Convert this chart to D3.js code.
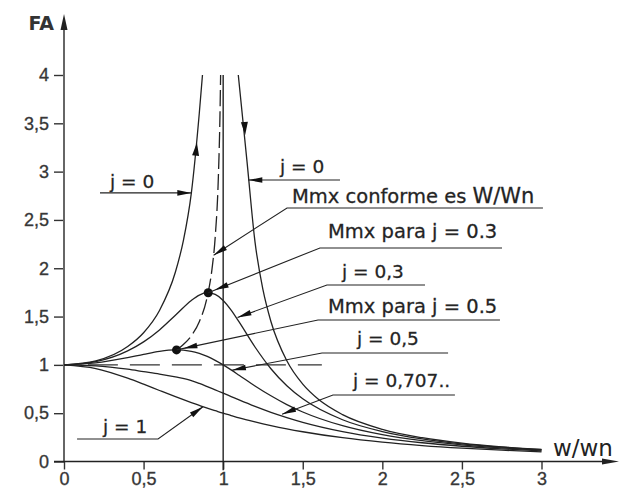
<!DOCTYPE html>
<html>
<head>
<meta charset="utf-8">
<script src="https://cdnjs.cloudflare.com/ajax/libs/d3/7.8.5/d3.min.js"></script>
<style>
  body { margin: 0; background: #fff; }
  svg { display: block; font-family: "DejaVu Sans", sans-serif; }
  .curve { fill: none; stroke: #222; stroke-width: 1.3; }
  .peak-line { fill: none; stroke: #222; stroke-width: 1.3; stroke-dasharray: 16 5; }
  .unit-line { fill: none; stroke: #333; stroke-width: 1.1; stroke-dasharray: 30 12; }
  .leader { fill: none; stroke: #222; stroke-width: 1.1; }
  .tick text { font-size: 18px; fill: #333; stroke: #444; stroke-width: 0.35; }
  .tick line { stroke: #333; stroke-width: 1.4; }
  .lbl { font-size: 18.5px; fill: #222; stroke: #333; stroke-width: 0.3; }
  .lbl.mmx { font-size: 19.5px; }
</style>
</head>
<body>
<div id="chart"></div>
<script>

const ratios  = [0, 0.2, 0.4, 0.5, 0.6, 0.7, 0.8, 0.85, 0.9, 0.95, 1.0, 1.05, 1.1, 1.2, 1.3, 1.4, 1.5, 1.75, 2.0, 2.25, 2.5, 2.75, 3.0];
const faJ03   = [1, 1.034, 1.145, 1.238, 1.362, 1.514, 1.667, 1.722, 1.747, 1.729, 1.667, 1.567, 1.444, 1.185, 0.960, 0.784, 0.649, 0.432, 0.310, 0.234, 0.183, 0.148, 0.122];
const faJ05   = [1, 1.020, 1.075, 1.109, 1.140, 1.155, 1.140, 1.118, 1.087, 1.047, 1.0, 0.948, 0.893, 0.782, 0.680, 0.589, 0.512, 0.370, 0.277, 0.215, 0.172, 0.141, 0.117];
const faJ0707 = [1, 0.99, 0.955, 0.93, 0.905, 0.875, 0.838, 0.808, 0.775, 0.741, 0.707, 0.672, 0.637, 0.570, 0.509, 0.455, 0.406, 0.310, 0.243, 0.194, 0.158, 0.131, 0.110];
const faJ1    = [1, 0.962, 0.862, 0.800, 0.735, 0.671, 0.610, 0.581, 0.552, 0.526, 0.5, 0.476, 0.452, 0.410, 0.372, 0.338, 0.308, 0.246, 0.200, 0.165, 0.138, 0.117, 0.100];

// j = 0 runs off the top, so two branches
const ratiosJ0Left  = [0, 0.2, 0.4, 0.5, 0.6, 0.7, 0.75, 0.8, 0.85, 0.87];
const faJ0Left      = [1, 1.042, 1.190, 1.333, 1.563, 1.961, 2.286, 2.778, 3.604, 4.0];
const ratiosJ0Right = [1.095, 1.15, 1.2, 1.25, 1.3, 1.4, 1.5, 1.6, 1.75, 2.0, 2.25, 2.5, 2.75, 3.0];
const faJ0Right     = [4.0, 3.101, 2.273, 1.778, 1.449, 1.042, 0.8, 0.641, 0.485, 0.333, 0.246, 0.190, 0.152, 0.125];

// dashed line through the maxima
const ratiosPeak = [0.72, 0.75, 0.8, 0.85, 0.9, 0.93, 0.95, 0.97, 0.98, 0.984];
const faPeak     = [1.169, 1.21, 1.301, 1.446, 1.705, 1.993, 2.322, 2.953, 3.59, 4.0];

// maxima for j = 0.3 and j = 0.5
const peakDots = [[0.906, 1.747], [0.707, 1.155]];

const xTicks = [0, 0.5, 1, 1.5, 2, 2.5, 3];
const yTicks = [0, 0.5, 1, 1.5, 2, 2.5, 3, 3.5, 4];

// labels, their leaders (tip first) and where the text starts, all in chart units
const labelTexts = ["j = 0", "j = 0", "Mmx conforme es ", "Mmx para j = 0.3", "j = 0,3",
                    "Mmx para j = 0.5", "j = 0,5", "j = 0,707..", "j = 1"];
const leaderPoints = [
    [[0.80, 2.78], [0.226, 2.78]],
    [[1.158, 2.913], [1.734, 2.913]],
    [[0.94, 2.135], [1.401, 2.624], [3.009, 2.624]],
    [[0.906, 1.747], [1.608, 2.21], [2.752, 2.21]],
    [[1.09, 1.49], [1.652, 1.827], [2.268, 1.827]],
    [[0.707, 1.155], [1.596, 1.464], [2.739, 1.464]],
    [[1.055, 0.945], [1.621, 1.123], [2.413, 1.123]],
    [[1.37, 0.49], [1.69, 0.688], [2.456, 0.688]],
    [[0.873, 0.567], [0.591, 0.233], [0.082, 0.233]]
];
const labelAnchors = [[0.289, 2.83], [1.357, 2.986], [1.432, 2.675], [1.659, 2.313], [1.747, 1.899],
                      [1.659, 1.537], [1.841, 1.206], [1.816, 0.771], [0.245, 0.295]];

// small arrows on the j = 0 branches: tip, then a point behind it
const flowArrows = [
    [[0.835, 3.30], [0.8165, 3.0]],
    [[1.138, 3.38], [1.127, 3.7]]
];

let width = 624, height = 491;

let x = d3.scaleLinear().domain([0, 3]).range([64, 541.5]);
let y = d3.scaleLinear().domain([0, 4]).range([461.5, 75]);

let svg = d3.select('#chart').append('svg')
    .attr('width', width)
    .attr('height', height);

let line = d3.line()
    .x(d => x(d[0]))
    .y(d => y(d[1]))
    .curve(d3.curveMonotoneX);

function arrowHead(tip, from, len, half) {
    let dx = tip[0] - from[0], dy = tip[1] - from[1];
    let d = Math.hypot(dx, dy);
    let ux = dx / d, uy = dy / d;
    let bx = tip[0] - ux * len, by = tip[1] - uy * len;
    return [tip, [bx - uy * half, by + ux * half], [bx + uy * half, by - ux * half]];
}

// axes ticks
let yAxis = svg.append('g')
    .attr('transform', `translate(${x(0)},0)`)
    .call(d3.axisLeft(y).tickValues(yTicks).tickSize(10).tickPadding(5)
        .tickFormat(d => String(d).replace('.', ',')));
yAxis.select('.domain').remove();

let xAxis = svg.append('g')
    .attr('transform', `translate(0,${y(0)})`)
    .call(d3.axisBottom(x).tickValues(xTicks).tickSize(8).tickPadding(3)
        .tickFormat(d => String(d).replace('.', ',')));
xAxis.select('.domain').remove();

// axis lines with arrows
svg.append('line')
    .attr('x1', x(0)).attr('y1', y(0))
    .attr('x2', x(0)).attr('y2', 24)
    .attr('stroke', '#666').attr('stroke-width', 2);
svg.append('path')
    .attr('d', d3.line()([[x(0), 14], [x(0) - 3.5, 30], [x(0) + 3.5, 30]]) + 'Z')
    .attr('fill', '#222');

svg.append('line')
    .attr('x1', x(0) - 10).attr('y1', y(0))
    .attr('x2', 606).attr('y2', y(0))
    .attr('stroke', '#222').attr('stroke-width', 1.5);
svg.append('path')
    .attr('d', d3.line()([[619, y(0)], [602, y(0) - 3], [602, y(0) + 3]]) + 'Z')
    .attr('fill', '#222');

svg.append('text')
    .attr('x', x(0) - 10).attr('y', 30)
    .attr('text-anchor', 'end')
    .attr('font-size', 19).attr('font-weight', 'bold').attr('fill', '#333')
    .text('FA');

svg.append('text')
    .attr('x', 553).attr('y', 456)
    .attr('font-size', 23).attr('fill', '#222')
    .text('w/wn');

// resonance line at w/wn = 1 and the FA = 1 reference
svg.append('line')
    .attr('x1', x(1)).attr('y1', y(-0.09))
    .attr('x2', x(1)).attr('y2', y(4))
    .attr('stroke', '#222').attr('stroke-width', 1.4);

svg.append('path')
    .attr('class', 'unit-line')
    .attr('d', d3.line()([[x(0.15), y(1)], [x(1.62), y(1)]]));

// response curves
let series = [faJ03, faJ05, faJ0707, faJ1];
series.forEach(fa => {
    svg.append('path')
        .attr('class', 'curve')
        .attr('d', line(d3.zip(ratios, fa)));
});
svg.append('path').attr('class', 'curve').attr('d', line(d3.zip(ratiosJ0Left, faJ0Left)));
svg.append('path').attr('class', 'curve').attr('d', line(d3.zip(ratiosJ0Right, faJ0Right)));

svg.append('path')
    .attr('class', 'peak-line')
    .attr('d', line(d3.zip(ratiosPeak, faPeak)));

svg.selectAll('.peak-dot')
    .data(peakDots)
    .enter().append('circle')
    .attr('class', 'peak-dot')
    .attr('cx', d => x(d[0]))
    .attr('cy', d => y(d[1]))
    .attr('r', 4.5)
    .attr('fill', '#111');

flowArrows.forEach(a => {
    let tip = [x(a[0][0]), y(a[0][1])], from = [x(a[1][0]), y(a[1][1])];
    svg.append('path')
        .attr('d', d3.line()(arrowHead(tip, from, 13, 3.5)) + 'Z')
        .attr('fill', '#111');
});

// leaders and labels
leaderPoints.forEach((pts, i) => {
    let px = pts.map(p => [x(p[0]), y(p[1])]);
    svg.append('path')
        .attr('class', 'leader')
        .attr('d', d3.line()(px));

    // pull the arrow back a bit when it points at a dot
    let onDot = peakDots.some(d => Math.abs(x(d[0]) - px[0][0]) < 1 && Math.abs(y(d[1]) - px[0][1]) < 1);
    let back = onDot ? 7 : 0;
    let dx = px[1][0] - px[0][0], dy = px[1][1] - px[0][1];
    let d = Math.hypot(dx, dy);
    let tip = [px[0][0] + dx / d * back, px[0][1] + dy / d * back];
    svg.append('path')
        .attr('d', d3.line()(arrowHead(tip, px[1], 14, 2.8)) + 'Z')
        .attr('fill', '#111');

    let t = svg.append('text')
        .attr('class', labelTexts[i].startsWith('Mmx') ? 'lbl mmx' : 'lbl')
        .attr('x', x(labelAnchors[i][0]))
        .attr('y', y(labelAnchors[i][1]))
        .text(labelTexts[i]);
    if (i == 2) {
        t.append('tspan').attr('font-size', 21).text('W/Wn');
    }
});

</script>
</body>
</html>
